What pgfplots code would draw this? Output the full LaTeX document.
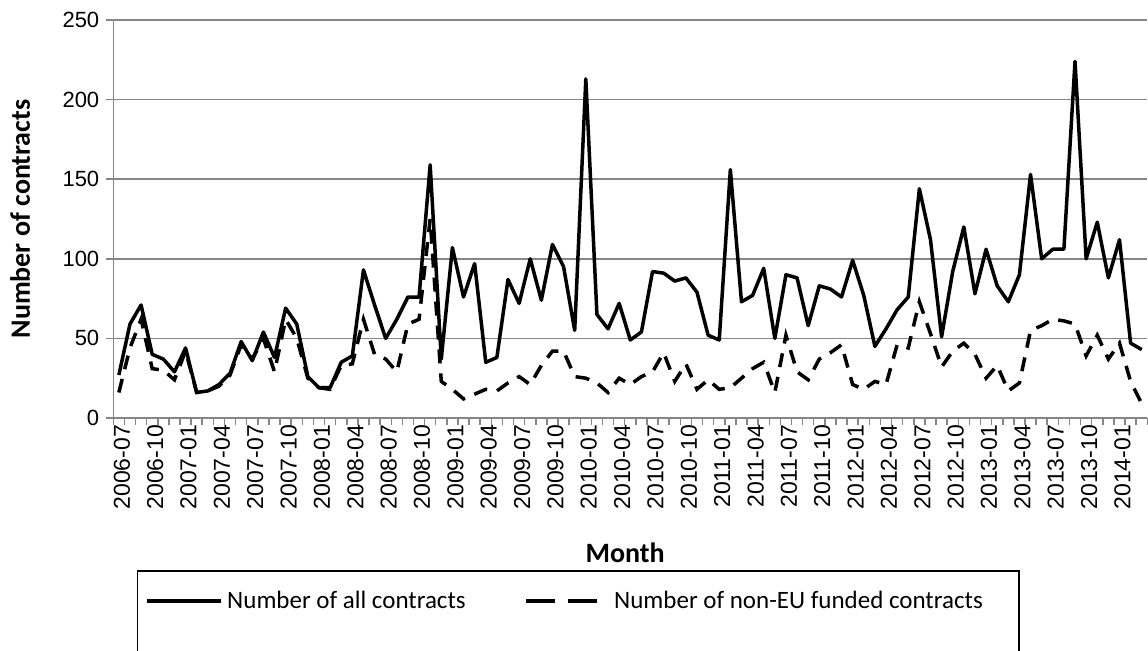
\documentclass[border=0pt]{standalone}
\usepackage{fontspec}
\setmainfont{Carlito}
\newfontfamily\arialfont{Liberation Sans}
\usepackage{pgfplots}
\usepackage{pgfplotstable}
\pgfplotsset{compat=1.18}
\definecolor{gridgray}{RGB}{134,134,134}

% Monthly contract counts, 2006-07 (idx 0) to 2014-03 (idx 92)
\pgfplotstableread{
idx all noneu
0 27 16
1 59 44
2 71 62
3 40 31
4 37 30
5 29 24
6 44 42
7 16 16
8 17 17
9 21 20
10 28 27
11 48 46
12 36 37
13 54 50
14 38 29
15 69 62
16 59 50
17 26 25
18 19 19
19 19 18
20 35 33
21 39 34
22 93 62
23 71 40
24 50 37
25 62 29
26 76 59
27 76 62
28 159 125
29 37 23
30 107 18
31 76 12
32 97 15
33 35 18
34 38 17
35 87 22
36 72 26
37 100 21
38 74 33
39 109 42
40 95 42
41 55 26
42 213 25
43 65 22
44 56 16
45 72 25
46 49 21
47 54 26
48 92 29
49 91 41
50 86 23
51 88 34
52 79 18
53 52 24
54 49 18
55 156 19
56 73 25
57 77 31
58 94 35
59 50 16
60 90 52
61 88 29
62 58 24
63 83 37
64 81 41
65 76 46
66 99 21
67 77 18
68 45 23
69 56 21
70 68 46
71 76 44
72 144 73
73 112 53
74 51 32
75 92 42
76 120 47
77 78 40
78 106 25
79 83 33
80 73 17
81 90 22
82 153 55
83 100 58
84 106 62
85 106 61
86 224 59
87 100 39
88 123 52
89 88 37
90 112 47
91 47 23
92 43 9
}\contracts

\begin{document}
\begin{tikzpicture}
\path[use as bounding box] (-56.65pt,-116.5pt) rectangle (517.35pt,209pt);
\begin{axis}[
  at={(0pt,0pt)}, anchor=south west,
  scale only axis, width=517pt, height=199pt,
  xmin=-0.5, xmax=92.5, ymin=0, ymax=250,
  axis lines=left,
  axis line style={gridgray, line width=0.75pt, -},
  ytick={0,50,...,250},
  xtick={-0.5,0.5,...,92.5}, xticklabels={},
  extra x ticks={0,3,...,90},
  extra x tick labels={2006-07,2006-10,2007-01,2007-04,2007-07,2007-10,2008-01,2008-04,2008-07,2008-10,2009-01,2009-04,2009-07,2009-10,2010-01,2010-04,2010-07,2010-10,2011-01,2011-04,2011-07,2011-10,2012-01,2012-04,2012-07,2012-10,2013-01,2013-04,2013-07,2013-10,2014-01},
  extra x tick style={major tick length=0pt},
  tick align=outside,
  major tick length=3.5pt,
  tick style={gridgray, line width=0.75pt},
  ymajorgrids,
  grid style={gridgray, line width=0.75pt},
  xticklabel style={rotate=90, anchor=east, yshift=-1.5pt, font=\arialfont\fontsize{11.5}{13}\selectfont},
  yticklabel style={font=\arialfont\fontsize{11}{13}\selectfont},
  /pgf/number format/assume math mode=true,
  xlabel={Month},
  ylabel={Number of contracts},
  xlabel style={font=\bfseries\fontsize{14}{16}\selectfont, at={(axis description cs:0.495,-0.339)}, anchor=center},
  ylabel style={font=\bfseries\fontsize{14}{16}\selectfont, at={(axis description cs:-0.0902,0.5)}, anchor=center},
  legend columns=2,
  legend image code/.code={\draw[#1] (0pt,0pt) -- (37pt,0pt); \path (0pt,-25pt);},
  legend style={at={(axis description cs:0.0229,-0.382)}, anchor=north west,
    draw=black, line width=0.75pt, inner xsep=4pt, inner ysep=10pt,
    font=\fontsize{12.5}{15}\selectfont,
    nodes={inner xsep=2pt, inner ysep=0pt},
    /tikz/every even column/.append style={column sep=27.5pt}},
]
\addplot[black, line width=1.75pt, line join=round] table[x=idx, y=all] {\contracts};
\addlegendentry{Number of all contracts}
\addplot[black, line width=1.75pt, dash pattern=on 7pt off 5pt,
  legend image post style={dash pattern=on 14.5pt off 6.5pt}] table[x=idx, y=noneu] {\contracts};
\addlegendentry{\hspace*{4pt}Number of non-EU funded contracts\hspace*{12pt}}
\end{axis}
\end{tikzpicture}
\end{document}
